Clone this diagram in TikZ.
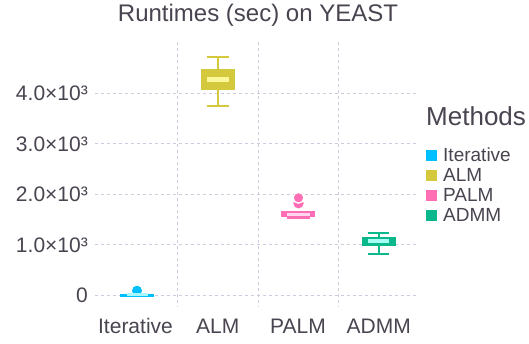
\documentclass[tikz,border=0pt]{standalone}
\usepackage{fontspec}
\setmainfont{Liberation Sans}
\definecolor{txt}{HTML}{4A4450}
\definecolor{gridc}{HTML}{CFCBDF}
\definecolor{itc}{HTML}{00BFFF}
\definecolor{itl}{HTML}{AAF8FF}
\definecolor{almc}{HTML}{D4C93C}
\definecolor{alml}{HTML}{FCF89A}
\definecolor{palmc}{HTML}{FF6EB4}
\definecolor{palml}{HTML}{FFD6F0}
\definecolor{admc}{HTML}{0BB88C}
\definecolor{adml}{HTML}{A6FFF4}
\tikzset{
  gridline/.style={draw=gridc, line width=1pt, dash pattern=on 3pt off 3pt},
  ticklbl/.style={text=txt, inner sep=0pt, font=\fontsize{21}{25}\selectfont},
  legtxt/.style={text=txt, inner sep=0pt, anchor=west, font=\fontsize{19}{23}\selectfont},
  legkey/.style={minimum size=11pt, inner sep=0pt},
  whisk/.style={line width=2pt},
}
\begin{document}
\begin{tikzpicture}[x=1pt,y=-1pt]
\useasboundingbox (0,0) rectangle (529,343);
\fill[white] (0,0) rectangle (529,343);

% grid
\foreach \yy in {295.3,244.8,194.3,143.8,93.3}
  \draw[gridline] (95,\yy) -- (418,\yy);
\foreach \xx in {177.7,258,338.3}
  \draw[gridline] (\xx,42) -- (\xx,307);

% title
\node[text=txt, inner sep=0pt, font=\fontsize{24}{28}\selectfont] (title) at (258,15) {Runtimes (sec) on YEAST};

% y tick labels
\node[ticklbl, anchor=east] (y0) at (88,295.3) {0};
\node[ticklbl, anchor=east] (y1) at (88,244.8) {1.0×10³};
\node[ticklbl, anchor=east] (y2) at (88,194.3) {2.0×10³};
\node[ticklbl, anchor=east] (y3) at (88,143.8) {3.0×10³};
\node[ticklbl, anchor=east] (y4) at (88,93.3) {4.0×10³};

% x tick labels
\node[ticklbl] (xit) at (135.5,326) {Iterative};
\node[ticklbl] (xalm) at (217.7,326) {ALM};
\node[ticklbl] (xpalm) at (298,326) {PALM};
\node[ticklbl] (xadmm) at (378.7,326) {ADMM};

% Iterative
\fill[itc] (137,290.7) circle (5);
\fill[itc] (120,293.5) rectangle (154,297);
\fill[itl] (127,292.8) rectangle (148,296.2);

% ALM
\draw[almc, whisk] (217.7,56.7) -- (217.7,105.7);
\draw[almc, whisk] (206.7,56.7) -- (228.7,56.7);
\draw[almc, whisk] (206.7,105.7) -- (228.7,105.7);
\fill[almc] (200.7,69) rectangle (234.7,90);
\fill[alml] (207.3,77.3) rectangle (228.7,82.3);

% PALM
\fill[palmc] (298.5,203.2) circle (5.2);
\filldraw[palmc, draw=white, line width=1.3pt] (298.5,197.8) circle (5.4);
\draw[palmc, line width=1.2pt] (287.3,218) -- (309.5,218);
\fill[palmc] (281,211) rectangle (315,217.3);
\fill[palml] (287.3,212.6) rectangle (309.5,216.3);

% ADMM
\draw[admc, whisk] (378.7,232.7) -- (378.7,254);
\draw[admc, whisk] (368.3,232.7) -- (389,232.7);
\draw[admc, whisk] (368.3,254) -- (389,254);
\fill[admc] (361.7,237.3) rectangle (395.7,246.3);
\fill[adml] (367.7,239.3) rectangle (389.3,243.3);

% legend
\node[text=txt, inner sep=0pt, anchor=west, font=\fontsize{26}{31}\selectfont] (legtitle) at (426,116) {Methods};
\node[legkey, fill=itc] (kit) at (431.2,155) {};
\node[legkey, fill=almc] (kalm) at (431.2,175) {};
\node[legkey, fill=palmc] (kpalm) at (431.2,195) {};
\node[legkey, fill=admc] (kadmm) at (431.2,215) {};
\node[legtxt] (lit) at (443,155) {Iterative};
\node[legtxt] (lalm) at (443,175) {ALM};
\node[legtxt] (lpalm) at (443,195) {PALM};
\node[legtxt] (ladmm) at (443,215) {ADMM};
\end{tikzpicture}
\end{document}
